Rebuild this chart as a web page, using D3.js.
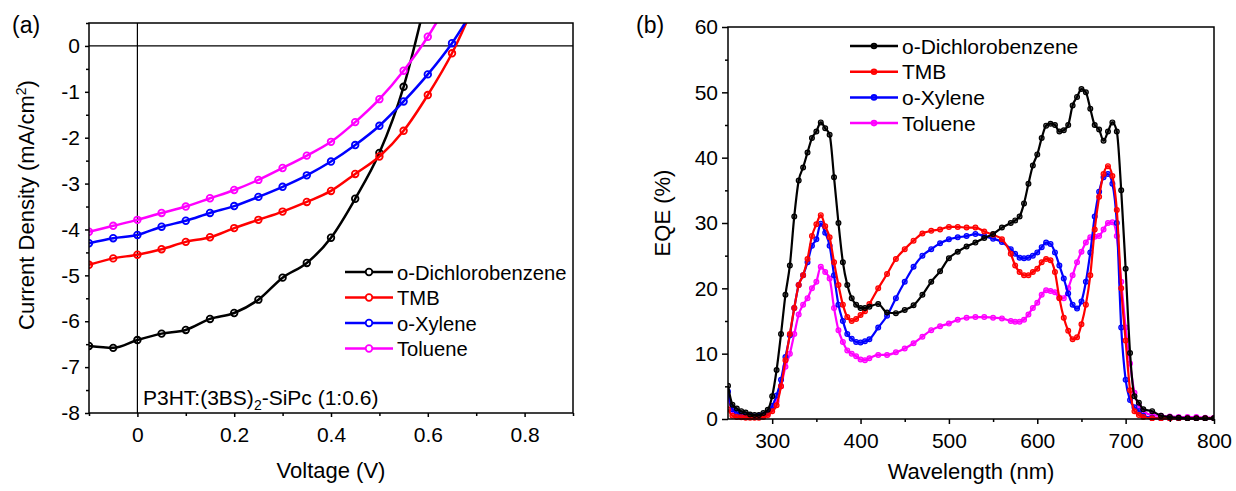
<!DOCTYPE html>
<html>
<head>
<meta charset="utf-8">
<script src="https://cdn.jsdelivr.net/npm/d3@7"></script>
<style>
body{margin:0;background:#fff;}
svg{font-family:"Liberation Sans",Arial,sans-serif;}
</style>
</head>
<body>
<div id="chart"></div>
<script>
// ---- data, panel (a): J-V curves
const solvents=["o-Dichlorobenzene","TMB","o-Xylene","Toluene"];
const colors=["#000000","#ff0000","#0000ff","#ff00ff"];

const jvVoltage=[-0.1,-0.05,0,0.05,0.1,0.15,0.2,0.25,0.3,0.35,0.4,0.45,0.5,0.55,0.6,0.65,0.7];
const jvDCB=[-6.54,-6.58,-6.41,-6.27,-6.19,-5.95,-5.82,-5.53,-5.05,-4.73,-4.18,-3.33,-2.33,-0.89,1.2,null,null];
const jvTMB=[-4.77,-4.63,-4.55,-4.43,-4.27,-4.17,-3.97,-3.79,-3.61,-3.4,-3.16,-2.79,-2.41,-1.85,-1.07,-0.16,1.0];
const jvXyl=[-4.3,-4.19,-4.12,-3.94,-3.81,-3.64,-3.49,-3.29,-3.07,-2.82,-2.52,-2.16,-1.74,-1.21,-0.62,0.06,0.9];
const jvTol=[-4.05,-3.92,-3.79,-3.64,-3.5,-3.32,-3.14,-2.92,-2.66,-2.39,-2.09,-1.66,-1.16,-0.54,0.2,1.1,null];

const jvXTicks=[0,0.2,0.4,0.6,0.8];
const jvYTicks=[0,-1,-2,-3,-4,-5,-6,-7,-8];

// ---- data, panel (b): EQE spectra
const wl=[250,255,260,265,270,275,280,285,290,295,300,305,310,315,320,325,330,335,340,345,350,355,360,365,370,375,380,385,390,395,400,405,410,420,430,440,450,460,470,480,490,500,510,520,530,540,550,560,570,575,580,585,590,595,600,605,610,615,620,625,630,635,640,645,650,655,660,665,670,675,680,685,690,695,700,705,710,715,720,730,740,750,760,770,780,790,800];
const eqeDCB=[5.1,2.2,1.6,1.2,1.0,0.7,0.6,0.6,0.9,1.4,3.5,7.5,13,19,23.5,31,36.5,38.5,40.8,43,44,45.4,44.5,43.5,37,30,24,20.5,18.5,17.5,17,17,17.2,17.6,16.3,16.2,16.7,17.4,19,21,22.6,24.6,25.6,26.4,27,27.7,28.3,29.3,30,30.4,31,33,36,38.8,40.5,43,44.9,45.2,45,44,44.2,45,48,49.3,50.5,50,47.5,45,44.3,42.6,44,45.4,44,35,23,10.1,3.5,2.5,1.5,1.2,0.5,0.3,0.2,0.1,0.1,0.1,0.1];
const eqeTMB=[1.5,0.5,0.3,0.25,0.2,0.2,0.2,0.2,0.3,0.6,1.2,2.1,5,9,13,17,20.5,22,24.5,28,29.8,31.2,29.5,27.8,24,20.5,17.5,15.6,15,15.3,15.9,16.5,17.6,20,22.2,24.5,26,27.3,28.4,28.8,29,29.4,29.4,29.3,29.3,28.7,28.2,27.5,25.3,23.5,22.5,22,22,22.5,23,24,24.5,24.3,22.5,18.5,15.5,13.5,12.2,12.5,14.5,17.5,22,29,34,37.5,38.7,37.2,32,20,12,4.4,1.2,0.6,0.3,0.1,0.1,0.1,0.1,0.1,0.1,0.1,0.1];
const eqeXyl=[4.2,1.5,1.0,0.8,0.6,0.5,0.4,0.5,0.6,1.0,2.0,3.6,6,9.5,12.8,17,20.5,22,24,26.5,27.5,29.9,28.5,26.5,22,17.5,15,13,12.3,11.8,11.7,11.9,12.2,14,15.8,18.5,21,23.3,25,26,26.9,27.5,27.8,28,28.3,28,27.6,27.1,26,25.3,24.7,24.6,24.7,25,25.5,26.3,27,26.8,25.5,23.5,21.5,19.2,17.5,16.9,18,21,25.5,31,34.8,37,37.5,36,30,14,6,2.9,1.8,1.2,0.5,0.2,0.1,0.1,0.1,0.1,0.1,0.1,0.1];
const eqeTol=[3.4,1.2,0.6,0.4,0.3,0.3,0.3,0.3,0.4,0.8,1.5,2.7,5,8,10,13,16,17.5,18.5,20,21,23.3,22.5,21.5,17,13.6,11.8,10.5,10,9.6,9.1,9,9.3,9.8,9.8,10.2,10.8,11.6,12.6,13.6,14.2,14.6,15.2,15.5,15.6,15.6,15.5,15.4,15,14.9,14.9,15.2,16,17,17.8,19,19.7,19.6,19.4,18.6,18.5,20,22,24,25.6,27,27.8,27.9,28,29,30,30.1,28,21,14,8.5,4,2,1.2,0.6,0.5,0.4,0.3,0.3,0.3,0.2,0.2];

const eqeXTicks=[300,400,500,600,700,800];
const eqeYTicks=[0,10,20,30,40,50,60];

const W=1236,H=491;
const svg=d3.select("#chart").append("svg")
    .attr("width",W)
    .attr("height",H);

// ---------------- panel (a)
const ax={left:89,right:573,top:23,bottom:413};
const xA=d3.scaleLinear().domain([-0.1,0.9]).range([ax.left,ax.right]);
const yA=d3.scaleLinear().domain([-8,0.5]).range([ax.bottom,ax.top]);

svg.append("clipPath").attr("id","clipA")
    .append("rect").attr("x",ax.left).attr("y",ax.top)
    .attr("width",ax.right-ax.left).attr("height",ax.bottom-ax.top);

// zero lines
svg.append("line").attr("x1",ax.left).attr("x2",ax.right)
    .attr("y1",yA(0)).attr("y2",yA(0))
    .attr("stroke","#000").attr("stroke-width",1.2);
svg.append("line").attr("x1",xA(0)).attr("x2",xA(0))
    .attr("y1",ax.top).attr("y2",ax.bottom)
    .attr("stroke","#000").attr("stroke-width",1.2);

const jvSeries=[jvDCB,jvTMB,jvXyl,jvTol];
const lineA=d3.line()
    .defined(d=>d.y!=null)
    .x(d=>xA(d.x)).y(d=>yA(d.y))
    .curve(d3.curveMonotoneX);

const gA=svg.append("g").attr("clip-path","url(#clipA)");
jvSeries.forEach((s,i)=>{
    const pts=jvVoltage.map((v,j)=>({x:v,y:s[j]}));
    gA.append("path").datum(pts)
        .attr("fill","none")
        .attr("stroke",colors[i])
        .attr("stroke-width",2.5)
        .attr("d",lineA);
    gA.selectAll(null)
        .data(pts.filter(d=>d.y!=null))
        .join("circle")
        .attr("cx",d=>xA(d.x)).attr("cy",d=>yA(d.y))
        .attr("r",3.3)
        .attr("fill","none")
        .attr("stroke",colors[i])
        .attr("stroke-width",1.8);
});

// frame a
svg.append("rect").attr("x",ax.left).attr("y",ax.top)
    .attr("width",ax.right-ax.left).attr("height",ax.bottom-ax.top)
    .attr("fill","none").attr("stroke","#000").attr("stroke-width",1.5);

svg.append("g").attr("transform",`translate(0,${ax.bottom})`)
    .call(d3.axisBottom(xA).tickValues(jvXTicks).tickSize(4).tickPadding(10)
    .tickFormat(d=>d===0?"0":d3.format(".1f")(d)));
svg.append("g").attr("transform",`translate(0,${ax.bottom})`)
    .call(d3.axisBottom(xA).tickValues([-0.1,0.1,0.3,0.5,0.7,0.9]).tickSize(3).tickFormat(""));
svg.append("g").attr("transform",`translate(${ax.left},0)`)
    .call(d3.axisLeft(yA).tickValues(jvYTicks).tickSize(4).tickPadding(5).tickFormat(d=>String(d)));
svg.append("g").attr("transform",`translate(${ax.left},0)`)
    .call(d3.axisLeft(yA).tickValues(d3.range(-7.5,0.6,1)).tickSize(3).tickFormat(""));

// ---------------- panel (b)
const bx={left:728,right:1214,top:27,bottom:419};
const xB=d3.scaleLinear().domain([250,800]).range([bx.left,bx.right]);
const yB=d3.scaleLinear().domain([0,60]).range([bx.bottom,bx.top]);

svg.append("clipPath").attr("id","clipB")
    .append("rect").attr("x",bx.left).attr("y",bx.top)
    .attr("width",bx.right-bx.left).attr("height",bx.bottom-bx.top+2);

const eqeSeries=[eqeDCB,eqeTMB,eqeXyl,eqeTol];
const lineB=d3.line().x(d=>xB(d.x)).y(d=>yB(d.y)).curve(d3.curveMonotoneX);
const gB=svg.append("g").attr("clip-path","url(#clipB)");
// draw toluene first, black last on top
[3,2,1,0].forEach(i=>{
    const pts=wl.map((w,j)=>({x:w,y:eqeSeries[i][j]}));
    gB.append("path").datum(pts)
        .attr("fill","none")
        .attr("stroke",colors[i])
        .attr("stroke-width",2.2)
        .attr("d",lineB);
    gB.selectAll(null).data(pts).join("circle")
        .attr("cx",d=>xB(d.x)).attr("cy",d=>yB(d.y))
        .attr("r",2.4)
        .attr("fill",colors[i])
        .attr("fill-opacity",0.5)
        .attr("stroke",colors[i])
        .attr("stroke-width",1.2);
});

svg.append("rect").attr("x",bx.left).attr("y",bx.top)
    .attr("width",bx.right-bx.left).attr("height",bx.bottom-bx.top)
    .attr("fill","none").attr("stroke","#000").attr("stroke-width",1.5);

svg.append("g").attr("transform",`translate(0,${bx.bottom})`)
    .call(d3.axisBottom(xB).tickValues(eqeXTicks).tickSize(5).tickPadding(9));
svg.append("g").attr("transform",`translate(0,${bx.bottom})`)
    .call(d3.axisBottom(xB).tickValues([350,450,550,650,750]).tickSize(3).tickFormat(""));
svg.append("g").attr("transform",`translate(${bx.left},0)`)
    .call(d3.axisLeft(yB).tickValues(eqeYTicks).tickSize(6).tickPadding(4));
svg.append("g").attr("transform",`translate(${bx.left},0)`)
    .call(d3.axisLeft(yB).tickValues([5,15,25,35,45,55]).tickSize(3).tickFormat(""));

// axis styling
svg.selectAll(".domain").remove();
svg.selectAll(".tick line").attr("stroke","#000").attr("stroke-width",1.5);
svg.selectAll(".tick text").attr("font-size",21).attr("fill","#000")
    .attr("font-family","'Liberation Sans',Arial,sans-serif");

// ---------------- text
const txt=(x,y,s,opt={})=>svg.append("text")
    .attr("x",x).attr("y",y)
    .attr("font-size",opt.size||22)
    .attr("text-anchor",opt.anchor||"start")
    .attr("transform",opt.rot?`rotate(-90,${x},${y})`:null)
    .attr("fill","#000")
    .text(s);

txt(12,33,"(a)",{size:23});
txt(636,33,"(b)",{size:23});
txt((ax.left+ax.right)/2,478,"Voltage (V)",{anchor:"middle"});
txt((bx.left+bx.right)/2,479,"Wavelength (nm)",{anchor:"middle"});
txt(670,213,"EQE (%)",{anchor:"middle",rot:true});

const yt=txt(34,205,"Current Density (mA/cm",{anchor:"middle",rot:true});
yt.append("tspan").attr("dy",-8).attr("font-size",14).text("2");
yt.append("tspan").attr("dy",8).text(")");

const ann=txt(143,405,"P3HT:(3BS)",{size:21});
ann.append("tspan").attr("dy",5).attr("font-size",14).text("2");
ann.append("tspan").attr("dy",-5).text("-SiPc (1:0.6)");

// legends
function legend(x0,x1,tx,rows,r,hollow,size){
    solvents.forEach((name,i)=>{
        const y=rows[0]+i*rows[1];
        svg.append("line").attr("x1",x0).attr("x2",x1).attr("y1",y).attr("y2",y)
            .attr("stroke",colors[i]).attr("stroke-width",2.5);
        svg.append("circle").attr("cx",(x0+x1)/2).attr("cy",y).attr("r",r)
            .attr("fill",hollow?"#fff":colors[i]).attr("fill-opacity",hollow?1:0.6)
            .attr("stroke",colors[i]).attr("stroke-width",1.8);
        svg.append("text").attr("x",tx).attr("y",y+7.5)
            .attr("font-size",size).attr("fill","#000").text(name);
    });
}
legend(345,393,397,[272,25.5],3.3,true,20.2);
legend(850,898,902,[46,25.7],2.4,false,21);
</script>
</body>
</html>
